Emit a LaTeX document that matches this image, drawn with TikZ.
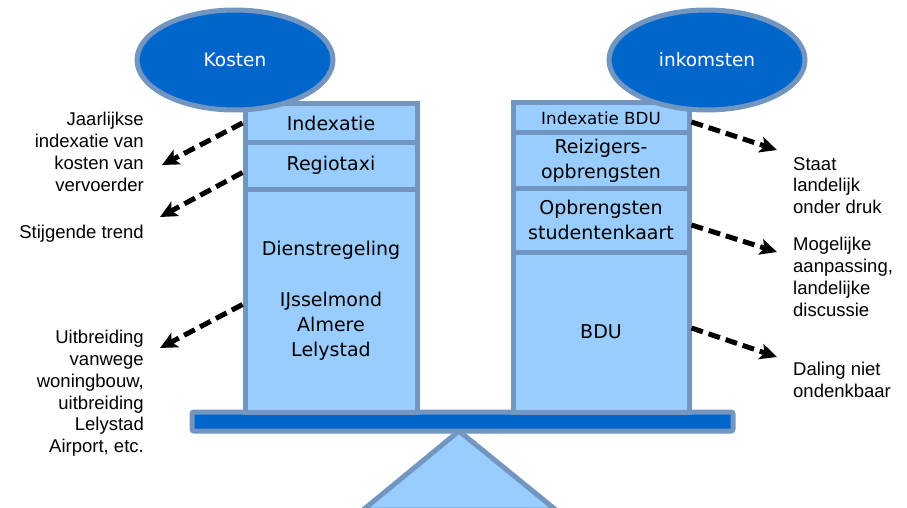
\documentclass[tikz,border=0pt]{standalone}
\usepackage{fontspec}
\newfontfamily\lblfont{Liberation Sans}
\newfontfamily\boxfont{DejaVu Sans}
\usetikzlibrary{arrows.meta,shapes.geometric}
\definecolor{steel}{RGB}{115,150,192}
\definecolor{lichtblauw}{RGB}{153,204,255}
\definecolor{donkerblauw}{RGB}{0,102,204}
\begin{document}
\begin{tikzpicture}[x=1pt, y=-1pt,
  seg/.style={draw=steel, fill=lichtblauw, line width=5pt, inner sep=0pt,
    align=center, font=\boxfont\fontsize{19pt}{25pt}\selectfont},
  ovaal/.style={ellipse, draw=steel, fill=donkerblauw, line width=5pt,
    minimum width=196pt, minimum height=100pt, text=white,
    font=\boxfont\fontsize{18.5pt}{25pt}\selectfont},
  lbl/.style={inner sep=0pt, font=\lblfont\fontsize{18.5pt}{21.8pt}\selectfont},
  pijl/.style={-{Stealth[length=17pt,width=16pt,inset=4pt]}, line width=5pt,
    dash pattern=on 12pt off 6pt}]
\useasboundingbox (0,0) rectangle (907,508);
% balans
\draw[steel, fill=lichtblauw, line width=5pt, line join=miter]
  (459,431) -- (556,510) -- (363,510) -- cycle;
\draw[steel, fill=donkerblauw, line width=5pt, rounded corners=2pt]
  (192,412) rectangle (733,431);
% kosten
\node[seg, minimum width=172pt, minimum height=38pt] (idx) at (331,123) {Indexatie};
\node[seg, minimum width=172pt, minimum height=47pt] (rt) at (331,165.5) {Regiotaxi};
\node[seg, minimum width=172pt, minimum height=223pt] (dr) at (331,300.5)
  {Dienstregeling\\[26pt]IJsselmond\\Almere\\Lelystad};
% inkomsten
\node[seg, minimum width=176pt, minimum height=30pt,
  font=\boxfont\fontsize{16.7pt}{20pt}\selectfont] (idxb) at (601,118) {Indexatie BDU};
\node[seg, minimum width=176pt, minimum height=55pt] (rg) at (601,160.5)
  {Reizigers-\\opbrengsten};
\node[seg, minimum width=176pt, minimum height=64pt] (opb) at (601,220)
  {Opbrengsten\\studentenkaart};
\node[seg, minimum width=176pt, minimum height=160pt] (bdu) at (601,332) {BDU};
\node[ovaal] (kos) at (235,60) {Kosten};
\node[ovaal] (ink) at (707,60) {inkomsten};
% toelichting
\node[lbl, anchor=north east, align=right] (jaar) at (144,112)
  {Jaarlijkse\\indexatie van\\kosten van\\vervoerder};
\node[lbl, anchor=north east, align=right] (trend) at (144,225) {Stijgende trend};
\node[lbl, anchor=north east, align=right] (uitb) at (144,330)
  {Uitbreiding\\vanwege\\woningbouw,\\uitbreiding\\Lelystad\\Airport, etc.};
\node[lbl, anchor=north west, align=left] (staat) at (793,157)
  {Staat\\landelijk\\onder druk};
\node[lbl, anchor=north west, align=left] (moge) at (793,237)
  {Mogelijke\\aanpassing,\\landelijke\\discussie};
\node[lbl, anchor=north west, align=left] (dal) at (793,362)
  {Daling niet\\ondenkbaar};
\coordinate (p1) at (162,165);
\coordinate (p2) at (160,217);
\coordinate (p3) at (160,348);
\coordinate (q1) at (777,150);
\coordinate (q2) at (777,252);
\coordinate (q3) at (777,357);
\draw[pijl] (idx.west) -- (p1);
\draw[pijl] ([yshift=-7pt]rt.west) -- (p2);
\draw[pijl] ([yshift=-4pt]dr.west) -- (p3);
\draw[pijl] ([yshift=-4pt]idxb.east) -- (q1);
\draw[pijl] ([yshift=-5pt]opb.east) -- (q2);
\draw[pijl] ([yshift=4pt]bdu.east) -- (q3);
\end{tikzpicture}
\end{document}
